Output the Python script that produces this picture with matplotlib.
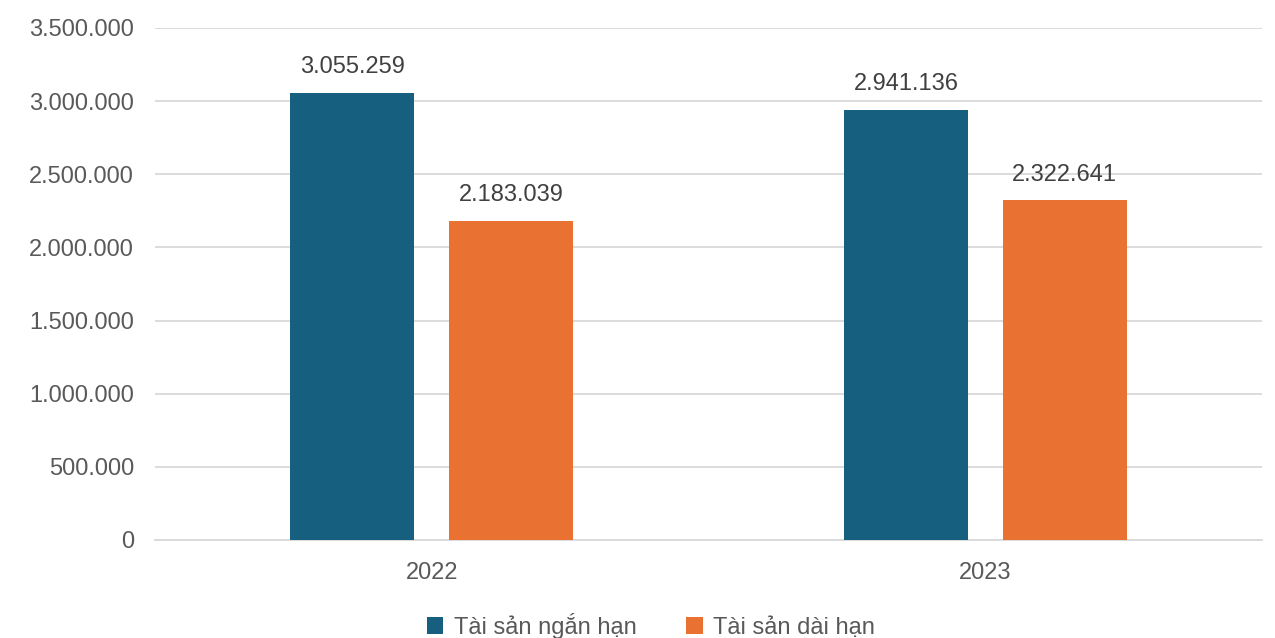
import matplotlib
matplotlib.use("Agg")
import matplotlib.pyplot as plt
import numpy as np

years = ["2022", "2023"]
series_names = ["Tài sản ngắn hạn", "Tài sản dài hạn"]
short_term = [3055259, 2941136]
long_term = [2183039, 2322641]
colors = ["#175F7F", "#E97132"]

def fmt(v):
    return f"{v:,.0f}".replace(",", ".")

plt.rcParams['font.family'] = ['Liberation Sans', 'DejaVu Sans']
fig = plt.figure(figsize=(12.75, 6.38), dpi=100)
ax = fig.add_axes([155/1275, 1-540/638, (1262-155)/1275, 512/638])

x = np.arange(len(years))
w = 0.224
off = 0.1432
b1 = ax.bar(x - off, short_term, w, color=colors[0], label=series_names[0], zorder=3)
b2 = ax.bar(x + off, long_term, w, color=colors[1], label=series_names[1], zorder=3)
for bars, vals in ((b1, short_term), (b2, long_term)):
    for r, v in zip(bars, vals):
        ax.text(r.get_x() + r.get_width()/2, v + 100000, fmt(v), ha='center', va='bottom',
                fontsize=17, color='#404040')

ax.set_xlim(-0.5, 1.5)
ax.set_ylim(0, 3500000)
yt = np.arange(0, 3500001, 500000)
ax.set_yticks(yt)
ax.set_yticklabels([fmt(v) for v in yt], fontsize=17, color='#595959')
ax.set_xticks(x)
ax.set_xticklabels(years, fontsize=17, color='#595959')
ax.tick_params(axis='both', length=0)
ax.tick_params(axis='y', pad=15)
ax.tick_params(axis='x', pad=16)
ax.grid(axis='y', color='#D9D9D9', linewidth=1.3, zorder=0)
for s in ['top', 'right', 'left']:
    ax.spines[s].set_visible(False)
ax.spines['bottom'].set_color('#D9D9D9')
ax.spines['bottom'].set_linewidth(1.3)

leg = fig.legend(handles=[b1, b2], labels=series_names, loc='center', bbox_to_anchor=(651/1275, 1-626/638),
                 ncol=2, frameon=False, fontsize=17, handlelength=0.7, handleheight=0.7,
                 handletextpad=0.45, columnspacing=2.1)
for t in leg.get_texts():
    t.set_color('#595959')

fig.savefig("out.png", dpi=100)
